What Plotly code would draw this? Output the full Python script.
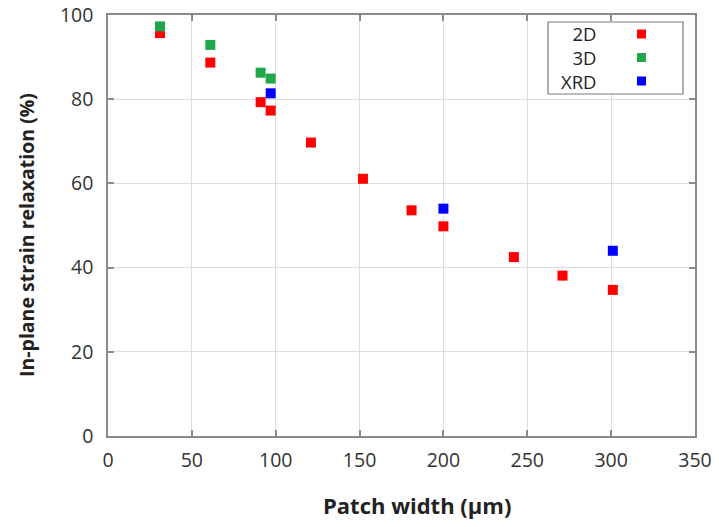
import plotly.graph_objects as go

# Data
x_2d = [31, 61, 91, 97, 121, 152, 181, 200, 242, 271, 301]
y_2d = [95.7, 88.7, 79.3, 77.3, 69.7, 61.1, 53.6, 49.8, 42.5, 38.1, 34.7]
x_3d = [31, 61, 91, 97]
y_3d = [97.3, 92.9, 86.3, 84.9]
x_xrd = [97, 200, 301]
y_xrd = [81.4, 54.0, 44.0]

series = [("2D", x_2d, y_2d, "#ff0000"),
          ("3D", x_3d, y_3d, "#1fa84a"),
          ("XRD", x_xrd, y_xrd, "#0000ff")]

x_ticks = [0, 50, 100, 150, 200, 250, 300, 350]
y_ticks = [0, 20, 40, 60, 80, 100]

fig = go.Figure()
for name, xs, ys, col in series:
    fig.add_trace(go.Scatter(x=xs, y=ys, mode="markers", name=name,
                             marker=dict(symbol="square", size=10, color=col,
                                         line=dict(width=0)),
                             showlegend=False))

font_fam = "Open Sans, DejaVu Sans, sans-serif"
axis_common = dict(showline=True, linecolor="#8a8a8a", linewidth=1.5, mirror="ticks",
                   ticks="inside", ticklen=6, tickcolor="#8a8a8a", tickwidth=1.5,
                   showgrid=True, gridcolor="#dedede", gridwidth=1, zeroline=False,
                   automargin=False, ticklabeloverflow="allow",
                   tickfont=dict(family=font_fam, size=19.5, color="#333333"))

fig.update_xaxes(range=[0, 350], tickvals=x_ticks, ticklabelstandoff=6, **axis_common)
fig.update_yaxes(range=[0, 100], tickvals=y_ticks, ticklabelstandoff=9, **axis_common)

# Page body margin is removed below, so work directly in page pixels
W, H = 719, 527
ml, mr, mt, mb = 108, 24, 15, 91
pw, ph = W - ml - mr, H - mt - mb

def px(x):
    return (x - ml) / pw

def py(y):
    return (H - mb - y) / ph

annotations = [
    dict(text="<b>Patch width (μm)</b>", xref="paper", yref="paper",
         x=px(417), y=py(505), xanchor="center", yanchor="middle", showarrow=False,
         font=dict(family=font_fam, size=22, color="#222222")),
    dict(text="<b>In-plane strain relaxation (%)</b>", xref="paper", yref="paper",
         x=px(27), y=py(235), xanchor="center", yanchor="middle", showarrow=False,
         textangle=-90, font=dict(family=font_fam, size=19.5, color="#222222")),
    dict(text="<br>".join(s[0] for s in series), xref="paper", yref="paper",
         x=px(599), y=py(57.5), xanchor="right", yanchor="middle", align="right",
         showarrow=False, font=dict(family=font_fam, size=18.5, color="#222222")),
]

shapes = [dict(type="rect", xref="paper", yref="paper",
               x0=px(548), x1=px(683), y0=py(94), y1=py(22),
               line=dict(color="#7a7a7a", width=1.2), fillcolor="white", layer="above")]
for i, (name, xs, ys, col) in enumerate(series):
    yc = 34 + i * 23.5
    shapes.append(dict(type="rect", xref="paper", yref="paper",
                       x0=px(637), x1=px(646), y0=py(yc + 4.5), y1=py(yc - 4.5),
                       line=dict(width=0), fillcolor=col, layer="above"))

fig.update_layout(width=W, height=H, margin=dict(l=ml, r=mr, t=mt, b=mb),
                  plot_bgcolor="white", paper_bgcolor="white",
                  shapes=shapes, annotations=annotations, showlegend=False)

fig.write_html("out.html", config={"displayModeBar": False},
               post_script="document.body.style.margin='0';document.body.style.padding='0';")
